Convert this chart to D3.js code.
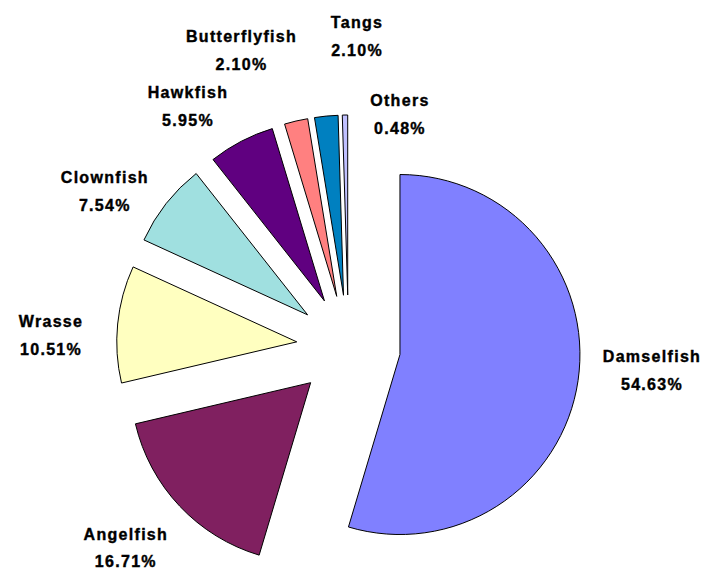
<!DOCTYPE html>
<html>
<head>
<meta charset="utf-8">
<script src="https://cdn.jsdelivr.net/npm/d3@7"></script>
<style>
  html, body { margin: 0; padding: 0; background: #ffffff; }
  svg { display: block; }
  text { font-family: "Liberation Sans", Arial, sans-serif; font-weight: bold; }
</style>
</head>
<body>
<svg id="chart" width="714" height="574"></svg>
<script>
// ---- data ----
const categories = ["Damselfish", "Angelfish", "Wrasse", "Clownfish", "Hawkfish", "Butterflyfish", "Tangs", "Others"];
const values = [54.63, 16.71, 10.51, 7.54, 5.95, 2.10, 2.10, 0.48];
const percentLabels = ["54.63%", "16.71%", "10.51%", "7.54%", "5.95%", "2.10%", "2.10%", "0.48%"];
const colors = ["#8080FF", "#802060", "#FFFFC0", "#A0E0E0", "#600080", "#FF8080", "#0080C0", "#C0C0FF"];

// ---- layout (label placement tweaks, like manually moved Excel labels) ----
const labelAngleShift = [-4.8, 1.5, -4.1, -6.8, -7.45, -8.1, 8.5, 17.0]; // degrees
const labelRadius = [252.5, 247.9, 245.8, 237.5, 237.9, 263.7, 259.6, 187.9];

const cx = 348.5, cy = 347, radius = 180, explode = 52;

const svg = d3.select("#chart");
const pie = d3.pie().sort(null).value(d => d.value);
const arc = d3.arc().innerRadius(0).outerRadius(radius);

const data = categories.map((c, i) => ({ name: c, value: values[i], pct: percentLabels[i], color: colors[i], i }));
const arcs = pie(data);

const g = svg.append("g").attr("transform", `translate(${cx},${cy})`);

function offsetOf(a) {
  const m = (a.startAngle + a.endAngle) / 2;
  return [explode * Math.sin(m), -explode * Math.cos(m)];
}

g.selectAll("path.slice")
  .data(arcs)
  .join("path")
  .attr("class", "slice")
  .attr("d", arc)
  .attr("transform", a => { const o = offsetOf(a); return `translate(${o[0]},${o[1]})`; })
  .attr("fill", a => a.data.color)
  .attr("stroke", "#000")
  .attr("stroke-width", 1)
  .attr("stroke-linejoin", "miter");

const labels = g.selectAll("g.lbl")
  .data(arcs)
  .join("g")
  .attr("class", "lbl")
  .attr("transform", a => {
    const o = offsetOf(a);
    const m = (a.startAngle + a.endAngle) / 2 + labelAngleShift[a.data.i] * Math.PI / 180;
    const R = labelRadius[a.data.i];
    return `translate(${o[0] + R * Math.sin(m)},${o[1] - R * Math.cos(m)})`;
  });

labels.append("text")
  .attr("text-anchor", "middle")
  .attr("y", -8.4)
  .attr("font-size", 16)
  .attr("letter-spacing", 1.3)
  .attr("fill", "#000")
  .attr("stroke", "#000")
  .attr("stroke-width", 0.4)
  .text(a => a.data.name);

labels.append("text")
  .attr("text-anchor", "middle")
  .attr("y", 19.6)
  .attr("font-size", 16)
  .attr("letter-spacing", 1.3)
  .attr("fill", "#000")
  .attr("stroke", "#000")
  .attr("stroke-width", 0.4)
  .text(a => a.data.pct);
</script>
</body>
</html>
